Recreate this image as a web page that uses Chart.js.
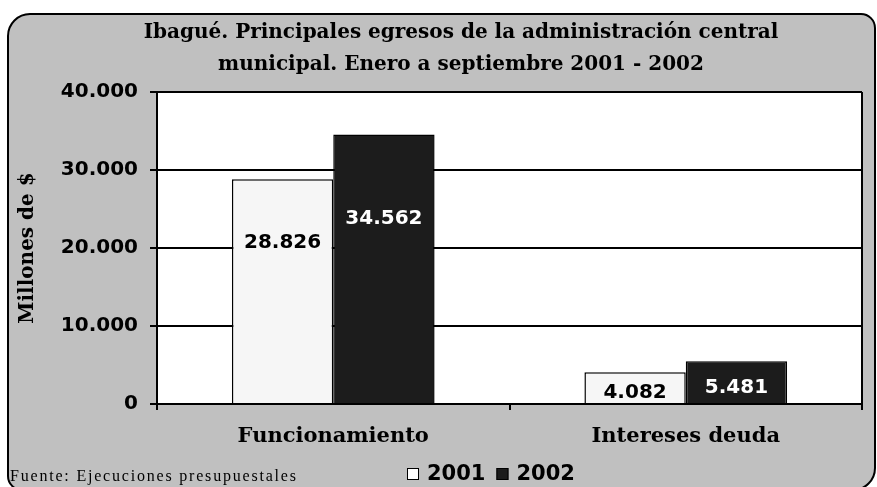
<!DOCTYPE html>
<html>
<head>
<meta charset="utf-8">
<script src="https://cdn.jsdelivr.net/npm/chart.js@4"></script>
<style>
  html, body { margin: 0; padding: 0; background: #fff; }
  #wrap { width: 877px; height: 487px; }
</style>
</head>
<body>
<div id="wrap"><canvas id="egresos" width="877" height="487"></canvas></div>
<script>
const categories = ['Funcionamiento', 'Intereses deuda'];
const years = ['2001', '2002'];
const values2001 = [28826, 4082];
const values2002 = [34562, 5481];
// where each value label sits (in data units, as placed in the original)
const labelAt2001 = [20640, 1410];
const labelAt2002 = [23720, 2050];
const yTicks = [0, 10000, 20000, 30000, 40000];
const titleLines = ['Ibagué. Principales egresos de la administración central', 'municipal. Enero a septiembre 2001 - 2002'];

const fill2001 = '#f6f6f6';
const fill2002 = '#1c1c1c';
const sansBold = 'bold 20px "DejaVu Sans"';

function miles(v) {
  return String(v).replace(/\B(?=(\d{3})+(?!\d))/g, '.');
}

const frame = {
  id: 'frame',
  beforeDraw(chart) {
    const ctx = chart.ctx;
    const a = chart.chartArea;
    ctx.save();
    ctx.fillStyle = '#fff';
    ctx.fillRect(0, 0, chart.width, chart.height);
    ctx.beginPath();
    ctx.roundRect(8, 14, 867, 476, [22, 14, 22, 14]);
    ctx.fillStyle = '#c0c0c0';
    ctx.fill();
    ctx.lineWidth = 2;
    ctx.strokeStyle = '#000';
    ctx.stroke();
    ctx.fillStyle = '#fff';
    ctx.fillRect(a.left, a.top, a.right - a.left, a.bottom - a.top);

    // title (sits a little right of centre in the original)
    ctx.fillStyle = '#000';
    ctx.font = 'bold 20px "DejaVu Serif"';
    ctx.textAlign = 'center';
    ctx.textBaseline = 'middle';
    titleLines.forEach((t, i) => ctx.fillText(t, 461, 33 + i * 32));
    ctx.restore();
  },
  afterDraw(chart) {
    const ctx = chart.ctx;
    const a = chart.chartArea;
    ctx.save();
    // right edge of the plot
    ctx.strokeStyle = '#000';
    ctx.lineWidth = 2;
    ctx.beginPath();
    ctx.moveTo(a.right, a.top);
    ctx.lineTo(a.right, a.bottom);
    ctx.stroke();

    // value labels
    ctx.font = sansBold;
    ctx.textAlign = 'center';
    ctx.textBaseline = 'middle';
    const y = chart.scales.y;
    [labelAt2001, labelAt2002].forEach((pos, di) => {
      const meta = chart.getDatasetMeta(di);
      const vals = chart.data.datasets[di].data;
      ctx.fillStyle = di === 0 ? '#000' : '#fff';
      meta.data.forEach((bar, i) => {
        ctx.fillText(miles(vals[i]), bar.x, y.getPixelForValue(pos[i]));
      });
    });

    // source note
    ctx.font = '16px "Liberation Serif"';
    ctx.letterSpacing = '1.8px';
    ctx.textAlign = 'left';
    ctx.fillStyle = '#000';
    ctx.fillText('Fuente: Ejecuciones presupuestales', 10, 477);
    ctx.letterSpacing = '0px';

    // legend
    ctx.font = 'bold 21px "DejaVu Sans"';
    let x = 407;
    years.forEach((yr, i) => {
      ctx.fillStyle = i === 0 ? '#fff' : fill2002;
      ctx.fillRect(x, 468, 12, 12);
      ctx.strokeStyle = '#000';
      ctx.lineWidth = 1;
      ctx.strokeRect(x + 0.5, 468.5, 11, 11);
      ctx.fillStyle = '#000';
      ctx.fillText(yr, x + 20, 475);
      x += 20 + ctx.measureText(yr).width + 11;
    });
    ctx.restore();
  }
};

new Chart(document.getElementById('egresos'), {
  type: 'bar',
  data: {
    labels: categories,
    datasets: [
      { label: years[0], data: values2001, backgroundColor: fill2001, borderColor: '#000', borderWidth: 1.5 },
      { label: years[1], data: values2002, backgroundColor: fill2002, borderColor: '#000', borderWidth: 1.5 }
    ]
  },
  options: {
    responsive: false,
    animation: false,
    devicePixelRatio: 1,
    layout: { padding: { top: 92, right: 15, bottom: 0, left: 0 } },
    datasets: { bar: { categoryPercentage: 0.575, barPercentage: 1 } },
    plugins: {
      legend: { display: false },
      tooltip: { enabled: false },
      title: { display: false }
    },
    scales: {
      x: {
        afterFit(s) { s.height = 83; },
        grid: { color: '#000', lineWidth: 2, drawOnChartArea: false, drawTicks: true, tickLength: 6, offset: true },
        border: { color: '#000', width: 2 },
        ticks: { color: '#000', padding: 14, font: { family: '"DejaVu Serif"', weight: 'bold', size: 21 } }
      },
      y: {
        min: 0,
        max: 40000,
        afterFit(s) { s.width = 157; },
        afterBuildTicks(s) { s.ticks = yTicks.map(v => ({ value: v })); },
        grid: { color: '#000', lineWidth: 2, drawTicks: true, tickLength: 7 },
        border: { color: '#000', width: 2 },
        ticks: { color: '#000', padding: 12, font: { family: '"DejaVu Sans"', weight: 'bold', size: 20 }, callback: v => miles(v) },
        title: { display: true, text: 'Millones de $', color: '#000', padding: { top: 16 }, font: { family: '"DejaVu Serif"', weight: 'bold', size: 20 } }
      }
    }
  },
  plugins: [frame]
});
</script>
</body>
</html>
